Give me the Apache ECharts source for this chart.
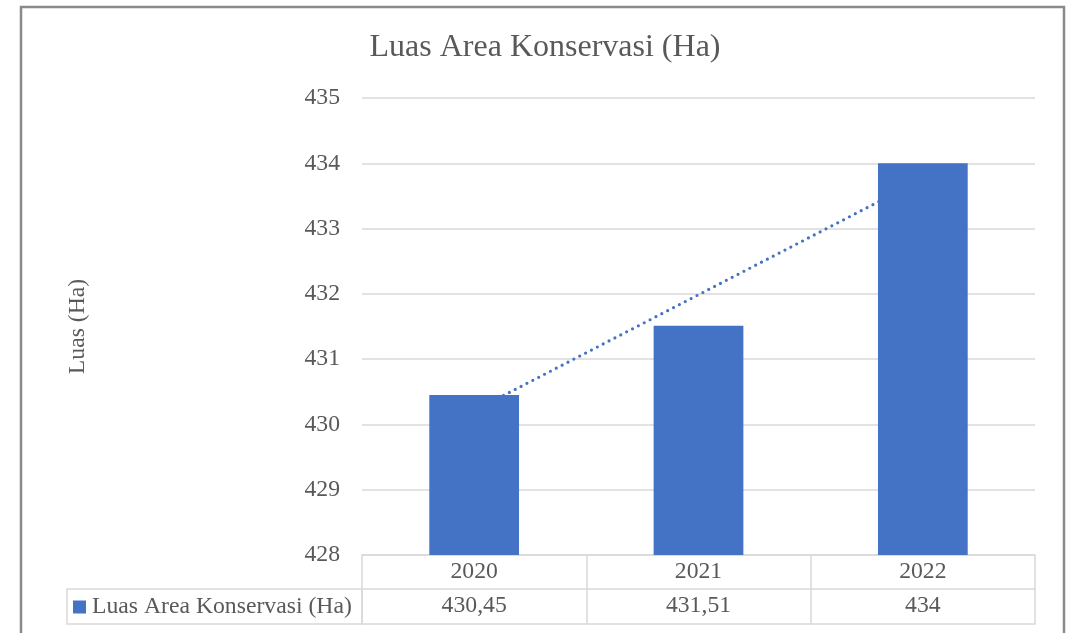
<!DOCTYPE html>
<html>
<head>
<meta charset="utf-8">
<style>
html,body{margin:0;padding:0;background:#fff;}
#chart{width:1066px;height:633px;}
</style>
<script src="https://cdn.jsdelivr.net/npm/echarts@6/dist/echarts.min.js"></script>
</head>
<body>
<div id="chart"></div>
<script>
const categories = ['2020', '2021', '2022'];
const values = [430.45, 431.51, 434];
const valueLabels = ['430,45', '431,51', '434'];
const yTicks = [428, 429, 430, 431, 432, 433, 434, 435];
const seriesName = 'Luas Area Konservasi (Ha)';

// linear trendline (least squares) from the data, like Excel's trendline
const n = values.length;
const xs = values.map((_, i) => i + 1);
const mx = xs.reduce((a, b) => a + b, 0) / n;
const my = values.reduce((a, b) => a + b, 0) / n;
let sxy = 0, sxx = 0;
for (let i = 0; i < n; i++) { sxy += (xs[i] - mx) * (values[i] - my); sxx += (xs[i] - mx) ** 2; }
const slope = sxy / sxx;
const trend = xs.map(x => my + slope * (x - mx));

const FONT = '"Liberation Serif", "Times New Roman", serif';
const TXT = '#595959';
const GRID = '#d9d9d9';

const chart = echarts.init(document.getElementById('chart'), null, {renderer: 'canvas'});
chart.setOption({
  animation: false,
  backgroundColor: '#fff',
  title: {
    text: 'Luas Area Konservasi (Ha)',
    left: 545, top: 32, textAlign: 'center', padding: 0,
    textStyle: {fontFamily: FONT, fontSize: 32, fontWeight: 'normal', color: TXT}
  },
  legend: {
    data: [seriesName],
    left: 73, top: 595, padding: 0,
    itemWidth: 13, itemHeight: 13, itemGap: 0,
    icon: 'rect',
    textStyle: {fontFamily: FONT, fontSize: 23.7, color: TXT, padding: [0, 0, 0, 1]}
  },
  grid: {left: 362, right: 31, top: 98, bottom: 78, containLabel: false},
  xAxis: [
    {
      type: 'category', data: categories, position: 'bottom',
      axisLine: {show: true, lineStyle: {color: GRID, width: 1.5}},
      axisTick: {show: true, length: 69, interval: 0, lineStyle: {color: GRID, width: 1.5}},
      axisLabel: {fontFamily: FONT, fontSize: 23.7, color: TXT, margin: 5, interval: 0}
    },
    {
      type: 'category', data: categories, position: 'bottom', offset: 34,
      axisLine: {show: true, lineStyle: {color: GRID, width: 1.5}},
      axisTick: {show: false},
      axisLabel: {fontFamily: FONT, fontSize: 23.7, color: TXT, margin: 5, interval: 0,
        formatter: (v, i) => valueLabels[i]}
    },
    {
      type: 'category', data: categories, position: 'bottom', offset: 69,
      axisLine: {show: true, lineStyle: {color: GRID, width: 1.5}},
      axisTick: {show: false}, axisLabel: {show: false}
    }
  ],
  yAxis: {
    type: 'value', min: yTicks[0], max: yTicks[yTicks.length - 1], interval: 1,
    name: 'Luas (Ha)', nameLocation: 'middle', nameRotate: 90, nameGap: 272,
    nameTextStyle: {fontFamily: FONT, fontSize: 23.7, color: TXT},
    axisLine: {show: false}, axisTick: {show: false},
    axisLabel: {fontFamily: FONT, fontSize: 23.7, color: TXT, margin: 22},
    splitLine: {show: true, lineStyle: {color: GRID, width: 1.5}}
  },
  series: [
    {
      name: 'trend', type: 'line', data: trend, z: 1,
      showSymbol: false, silent: true,
      lineStyle: {color: '#4472C4', width: 3.2, type: [0, 6.6], cap: 'round'}
    },
    {
      name: seriesName, type: 'bar', data: values, z: 3,
      barWidth: '40%',
      itemStyle: {color: '#4472C4'}
    }
  ],
  graphic: [
    {type: 'rect', z: 100, silent: true,
      shape: {x: 21, y: 7, width: 1043, height: 700},
      style: {fill: 'none', stroke: '#8a8a8a', lineWidth: 2.5}},
    {type: 'rect', z: 50, silent: true,
      shape: {x: 67, y: 589, width: 295, height: 35},
      style: {fill: 'none', stroke: GRID, lineWidth: 1.5}}
  ]
});
</script>
</body>
</html>
